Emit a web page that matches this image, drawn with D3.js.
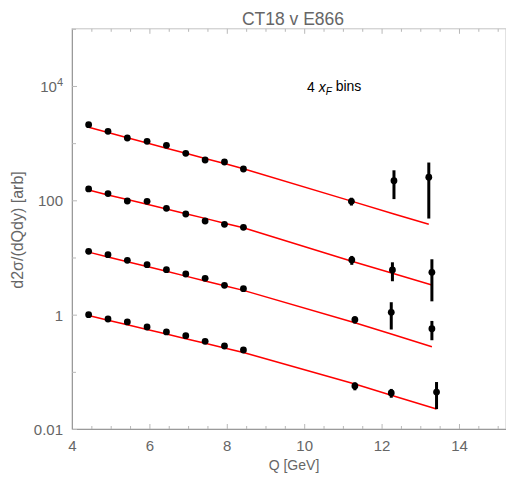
<!DOCTYPE html>
<html>
<head>
<meta charset="utf-8">
<script src="https://cdn.jsdelivr.net/npm/d3@7"></script>
<style>
  html, body { margin: 0; padding: 0; background: #fff; }
  svg { display: block; font-family: "Liberation Sans", Arial, Helvetica, sans-serif; }
</style>
</head>
<body>
<svg id="chart" width="506" height="479"></svg>
<script>
// Dilepton mass bins (Q, GeV) for each xF bin
const qA = [4.43, 4.93, 5.43, 5.94, 6.44, 6.94, 7.44, 7.94, 8.43, 11.22, 12.32, 13.22];
const qB = [4.43, 4.93, 5.43, 5.94, 6.44, 6.94, 7.44, 7.94, 8.43, 11.23, 12.28, 13.30];
const qC = [4.43, 4.93, 5.43, 5.94, 6.44, 6.94, 7.44, 7.94, 8.43, 11.31, 12.25, 13.30];
const qD = [4.43, 4.93, 5.43, 5.94, 6.44, 6.94, 7.44, 7.94, 8.43, 11.31, 12.25, 13.42];

// E866 measured cross sections (arbitrary normalisation, bins offset for display)
const dataA = [2103, 1611, 1230, 1077, 917, 664, 507, 468, 353, 96, 220, 253];
const dataB = [158, 131, 97.3, 96.1, 72.5, 57.6, 43.5, 38.0, 33.7, 9.04, 6.04, 5.51];
const dataC = [12.8, 11.2, 8.93, 7.48, 6.11, 5.14, 4.32, 3.26, 2.85, 0.817, 1.10, 0.567];
const dataD = [1.00, 0.84, 0.745, 0.608, 0.498, 0.429, 0.342, 0.283, 0.241, 0.0565, 0.0427, 0.0443];

// Uncertainties
const errA = [40, 35, 28, 25, 22, 17, 14, 13, 11, 15, 115, 205];
const errB = [3, 2.6, 2, 2, 1.6, 1.3, 1.1, 1, 0.9, 1.6, 2.2, 3.8];
const errC = [0.25, 0.22, 0.18, 0.15, 0.13, 0.11, 0.1, 0.08, 0.07, 0.12, 0.55, 0.21];
const errD = [0.02, 0.017, 0.015, 0.012, 0.01, 0.009, 0.007, 0.006, 0.005, 0.009, 0.0075, 0.022];

// CT18 predictions at the same bins
const theoryA = [1893, 1536, 1245, 1006, 816, 664, 539, 439, 357, 96.9, 57.6, 38.1];
const theoryB = [151.6, 124, 103, 85.2, 70.2, 58.3, 48.3, 39.8, 33.0, 8.61, 5.29, 3.30];
const theoryC = [12.4, 10.2, 8.41, 6.93, 5.73, 4.72, 3.88, 3.21, 2.66, 0.721, 0.460, 0.275];
const theoryD = [0.966, 0.800, 0.665, 0.550, 0.457, 0.380, 0.316, 0.262, 0.217, 0.0612, 0.0390, 0.0224];

// Axis ticks
const xMajorTicks = [4, 6, 8, 10, 12, 14];
const xMinorTicks = [4.5, 5, 5.5, 6.5, 7, 7.5, 8.5, 9, 9.5, 10.5, 11, 11.5, 12.5, 13, 13.5, 14.5, 15];
const yLabelTicks = [0.01, 1, 100, 1e4];
const yLabelText = [["0.01", null], ["1", null], ["100", null], ["10", "4"]];
const yMinorTicks = [0.1, 10, 1000, 1e5];

const title = "CT18 v E866";
const xTitle = "Q [GeV]";
const yTitle = "d2σ/(dQdy) [arb]";

const series = [
  { q: qA, data: dataA, err: errA, theory: theoryA },
  { q: qB, data: dataB, err: errB, theory: theoryB },
  { q: qC, data: dataC, err: errC, theory: theoryC },
  { q: qD, data: dataD, err: errD, theory: theoryD }
];

const svg = d3.select("#chart");
const frame = { left: 72, right: 506, top: 28.8, bottom: 429 };

const x = d3.scaleLinear().domain([4, 15.215]).range([frame.left, frame.right]);
const y = d3.scaleLog().domain([0.01, 1e5]).range([frame.bottom, frame.top]);

const axisColor = "#9a9a9a";
const tickColor = "#b8b8b8";
const labelColor = "#666";

// Frame
svg.append("rect")
  .attr("x", frame.left).attr("y", frame.top)
  .attr("width", frame.right - frame.left).attr("height", frame.bottom - frame.top)
  .attr("fill", "none").attr("stroke", "#c4c4c4").attr("stroke-width", 1);

// Bottom axis (ticks point inward)
const xAxis = svg.append("g").attr("transform", `translate(0,${frame.bottom})`)
  .call(d3.axisBottom(x).tickValues(xMajorTicks).tickSizeInner(-5).tickSizeOuter(0).tickPadding(11).tickFormat(d3.format("d")));
xAxis.select(".domain").attr("stroke", axisColor);
xAxis.selectAll(".tick line").attr("stroke", tickColor);
xAxis.selectAll(".tick text").attr("fill", labelColor).attr("font-size", 15).attr("font-family", null);
svg.append("g").attr("transform", `translate(0,${frame.bottom})`)
  .call(d3.axisBottom(x).tickValues(xMinorTicks).tickSizeInner(-3).tickSizeOuter(0).tickFormat(""))
  .call(g => g.select(".domain").remove())
  .call(g => g.selectAll(".tick line").attr("stroke", tickColor));

// Top mirrored ticks
const xTop = svg.append("g").attr("transform", `translate(0,${frame.top})`)
  .call(d3.axisTop(x).tickValues(xMajorTicks).tickSizeInner(-5).tickSizeOuter(0).tickFormat(""));
xTop.select(".domain").remove();
xTop.selectAll(".tick line").attr("stroke", tickColor);
svg.append("g").attr("transform", `translate(0,${frame.top})`)
  .call(d3.axisTop(x).tickValues(xMinorTicks).tickSizeInner(-3).tickSizeOuter(0).tickFormat(""))
  .call(g => g.select(".domain").remove())
  .call(g => g.selectAll(".tick line").attr("stroke", tickColor));

// Left axis
const yAxis = svg.append("g").attr("transform", `translate(${frame.left},0)`)
  .call(d3.axisLeft(y).tickValues(yLabelTicks).tickSizeInner(-5).tickSizeOuter(0).tickPadding(9).tickFormat(""));
yAxis.select(".domain").attr("stroke", axisColor);
yAxis.selectAll(".tick line").attr("stroke", tickColor);
yAxis.selectAll(".tick text").each(function(d, i) {
  const t = d3.select(this)
    .attr("fill", labelColor).attr("font-size", 15).attr("font-family", null)
    .attr("dy", "0.36em");
  const [base, sup] = yLabelText[i];
  t.append("tspan").text(base);
  if (sup) t.append("tspan").attr("dy", "-0.55em").attr("font-size", 11).text(sup);
});
svg.append("g").attr("transform", `translate(${frame.left},0)`)
  .call(d3.axisLeft(y).tickValues(yMinorTicks).tickSizeInner(-4).tickSizeOuter(0).tickFormat(""))
  .call(g => g.select(".domain").remove())
  .call(g => g.selectAll(".tick line").attr("stroke", tickColor));

// Titles
svg.append("text").attr("x", 293).attr("y", 24.5).attr("text-anchor", "middle")
  .attr("fill", labelColor).attr("font-size", 17.5).text(title);
svg.append("text").attr("x", 294).attr("y", 470).attr("text-anchor", "middle")
  .attr("fill", labelColor).attr("font-size", 14).text(xTitle);
svg.append("text").attr("transform", "translate(23,230) rotate(-90)").attr("text-anchor", "middle")
  .attr("fill", labelColor).attr("font-size", 16).text(yTitle);

// Annotation
const note = svg.append("text").attr("x", 307).attr("y", 92).attr("fill", "#000").attr("font-size", 14);
note.append("tspan").text("4 ");
note.append("tspan").attr("font-style", "italic").text("x");
note.append("tspan").attr("font-style", "italic").attr("font-size", 10).attr("dy", "0.3em").text("F");
note.append("tspan").attr("dy", "-0.3em").text(" bins");

const plot = svg.append("g");

// Theory curves
const line = d3.line().x(d => x(d[0])).y(d => y(d[1]));
series.forEach(s => {
  plot.append("path")
    .datum(s.q.map((q, i) => [q, s.theory[i]]))
    .attr("d", line)
    .attr("fill", "none").attr("stroke", "#ff0000").attr("stroke-width", 1.5);
});

// Data points with error bars
series.forEach(s => {
  const pts = s.q.map((q, i) => ({ q, v: s.data[i], e: s.err[i] }));
  const g = plot.append("g");
  g.selectAll("line").data(pts).join("line")
    .attr("x1", d => x(d.q)).attr("x2", d => x(d.q))
    .attr("y1", d => y(d.v + d.e)).attr("y2", d => y(Math.max(d.v - d.e, 1e-6)))
    .attr("stroke", "#000").attr("stroke-width", 3);
  g.selectAll("circle").data(pts).join("circle")
    .attr("cx", d => x(d.q)).attr("cy", d => y(d.v))
    .attr("r", 3.4).attr("fill", "#000");
});
</script>
</body>
</html>
